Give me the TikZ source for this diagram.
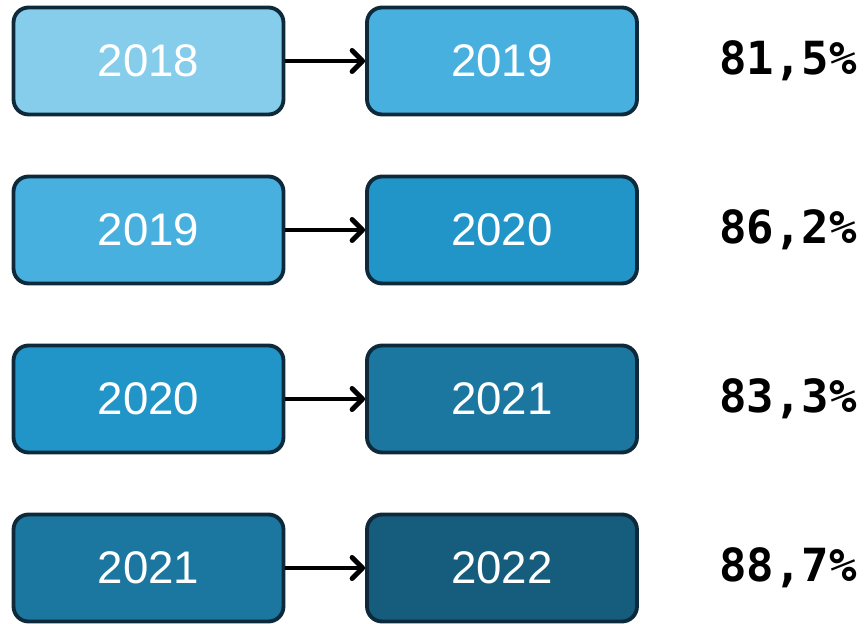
\documentclass[tikz,border=0pt]{standalone}
\usepackage{fontspec}
\setmainfont{Liberation Sans}
\newfontfamily\pctfont{DejaVu Sans Mono}
\usepackage{tikz}
\usetikzlibrary{arrows.meta}
\usepackage{xcolor}
\definecolor{yrA}{HTML}{86CDEB}
\definecolor{yrB}{HTML}{48B0DF}
\definecolor{yrC}{HTML}{2195C8}
\definecolor{yrD}{HTML}{1C77A0}
\definecolor{yrE}{HTML}{165D7D}
\definecolor{rim}{HTML}{0E2A3A}

\begin{document}
\begin{tikzpicture}[x=0.02cm,y=-0.02cm,
  yearbox/.style={draw=rim,line width=2.2pt,rounded corners=0.3cm,minimum width=5.4cm,
    minimum height=2.14cm,text=white,font=\fontsize{26}{30}\selectfont},
  pct/.style={font=\pctfont\bfseries\fontsize{26}{30}\selectfont},
  link/.style={line width=2.8pt,-{Straight Barb[length=6pt,width=12pt,round]}}]
\useasboundingbox (0,0) rectangle (866,624);
\foreach \y/\a/\b/\ca/\cb/\p [count=\i] in {61/2018/2019/yrA/yrB/81{,}5\%,230/2019/2020/yrB/yrC/86{,}2\%,
    399/2020/2021/yrC/yrD/83{,}3\%,568/2021/2022/yrD/yrE/88{,}7\%}{
  \node[yearbox,fill=\ca] (l\i) at (148.5,\y) {\a};
  \node[yearbox,fill=\cb] (r\i) at (502,\y) {\b};
  \node[pct] (p\i) at (788,\y) {\p};
  \draw[link] (l\i) -- (r\i);
}
\end{tikzpicture}
\end{document}
